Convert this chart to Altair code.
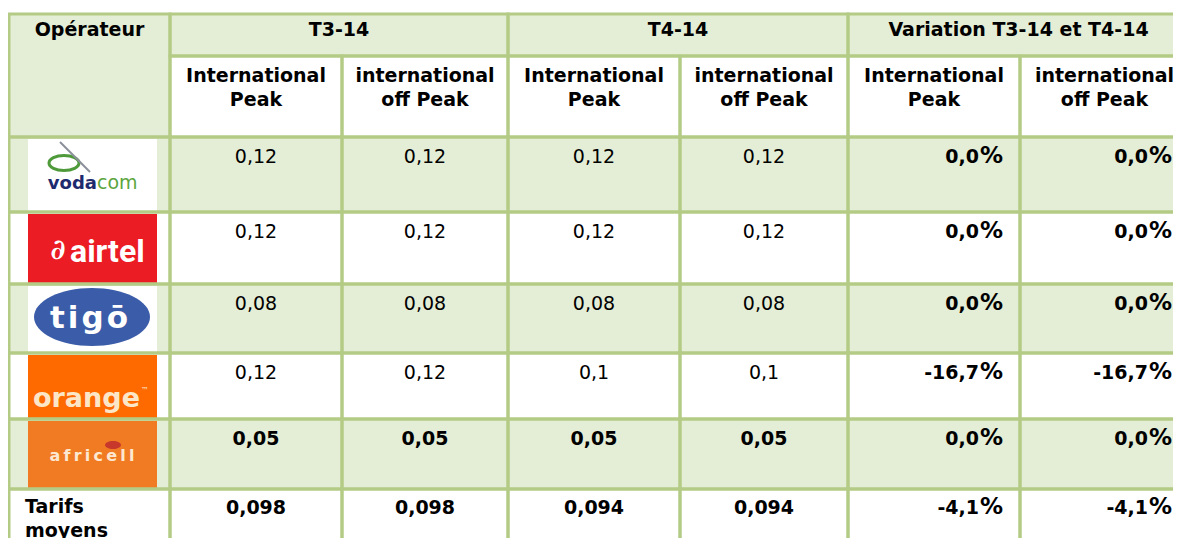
import altair as alt
import pandas as pd

# ---------------- data ----------------
corner_header = "Opérateur"
group_headers = ["T3-14", "T4-14", "Variation T3-14 et T4-14"]
sub_headers = ["International\nPeak", "international\noff Peak",
               "International\nPeak", "international\noff Peak",
               "International\nPeak", "international\noff Peak"]
operators = ["vodacom", "airtel", "tigo", "orange", "africell"]
t3_peak = [0.12, 0.12, 0.08, 0.12, 0.05]
t3_offpeak = [0.12, 0.12, 0.08, 0.12, 0.05]
t4_peak = [0.12, 0.12, 0.08, 0.1, 0.05]
t4_offpeak = [0.12, 0.12, 0.08, 0.1, 0.05]
var_peak = [0.0, 0.0, 0.0, -16.7, 0.0]
var_offpeak = [0.0, 0.0, 0.0, -16.7, 0.0]
bold_operators = ["africell"]
avg_label = "Tarifs\nmoyens"
avg_prices = [0.098, 0.098, 0.094, 0.094]
avg_var = [-4.1, -4.1]

# ---------------- layout / style ----------------
W, H = 1165, 530
COL = [9, 170, 342, 508, 680, 848, 1020, 1189]
ROW = [14, 56, 137, 212, 284, 353, 419, 489, 570]
GREEN = "#E4EDD5"
WHITE = "#FFFFFF"
BORDER = "#B4CB86"
FONT = "DejaVu Sans, Verdana, sans-serif"
FS = 19
PCT_W = 24

def num(v):
    return f"{v:g}".replace(".", ",")

def pct_num(v):
    return f"{v:.1f}".replace(".", ",")

xs = alt.Scale(domain=[8, 8 + W], range=[0, W], nice=False, zero=False)
ys = alt.Scale(domain=[8, 8 + H], range=[0, H], nice=False, zero=False)

def X(f):
    return alt.X(f, type="quantitative", scale=xs, axis=None)

def Y(f):
    return alt.Y(f, type="quantitative", scale=ys, axis=None)

# ---------------- cells ----------------
cells = []
def cell(c0, c1, r0, r1, fill):
    cells.append(dict(x0=COL[c0], x1=COL[c1], y0=ROW[r0], y1=ROW[r1], fill=fill))

cell(0, 1, 0, 2, GREEN)
for g in range(3):
    cell(1 + 2 * g, 3 + 2 * g, 0, 1, GREEN)
for c in range(1, 7):
    cell(c, c + 1, 1, 2, WHITE)
for r in range(2, 8):
    fill = GREEN if r % 2 == 0 else WHITE
    for c in range(0, 7):
        cell(c, c + 1, r, r + 1, fill)
cells_df = pd.DataFrame(cells)

fills = alt.Chart(cells_df).mark_rect(strokeWidth=0).encode(
    x=X("x0"), x2="x1", y=Y("y0"), y2="y1",
    color=alt.Color("fill:N", scale=None))
borders = alt.Chart(cells_df).mark_rect(fillOpacity=0, stroke=BORDER, strokeWidth=3).encode(
    x=X("x0"), x2="x1", y=Y("y0"), y2="y1")

# ---------------- texts ----------------
def mid(c0, c1):
    return (COL[c0] + COL[c1]) / 2

hdr = [dict(x=mid(0, 1), y=ROW[0] + 22, text=corner_header)]
for g, t in enumerate(group_headers):
    hdr.append(dict(x=mid(1 + 2 * g, 3 + 2 * g), y=ROW[0] + 22, text=t))
for i, t in enumerate(sub_headers):
    hdr.append(dict(x=mid(i + 1, i + 2), y=ROW[1] + 26, text=t))

reg_c, bold_c, bold_r, pct_sign = [], [], [], []
series = [t3_peak, t3_offpeak, t4_peak, t4_offpeak]

def add_pct(c, y, v):
    right = COL[c + 1] - 17
    bold_r.append(dict(x=right - PCT_W, y=y, text=pct_num(v)))
    pct_sign.append(dict(x=right, y=y, text="%"))

for k, op in enumerate(operators):
    r = 2 + k
    target = bold_c if op in bold_operators else reg_c
    for j, s in enumerate(series):
        target.append(dict(x=mid(j + 1, j + 2), y=ROW[r] + 26, text=num(s[k])))
    for j, s in enumerate([var_peak, var_offpeak]):
        add_pct(j + 5, ROW[r] + 26, s[k])
r = 7
for j, v in enumerate(avg_prices):
    bold_c.append(dict(x=mid(j + 1, j + 2), y=ROW[r] + 25, text=num(v)))
for j, v in enumerate(avg_var):
    add_pct(j + 5, ROW[r] + 25, v)
bold_l = [dict(x=COL[0] + 16, y=ROW[r] + 24, text=avg_label)]

def text_layer(rows, align, weight, size=FS, color="#000000", font=FONT, **kw):
    return alt.Chart(pd.DataFrame(rows)).mark_text(
        align=align, baseline="alphabetic", font=font, fontSize=size,
        fontWeight=weight, color=color, lineBreak="\n", lineHeight=24, **kw
    ).encode(x=X("x"), y=Y("y"), text="text:N")

texts = [
    text_layer(hdr, "center", "bold"),
    text_layer(reg_c, "center", "normal"),
    text_layer(bold_c, "center", "bold"),
    text_layer(bold_r, "right", "bold"),
    text_layer(pct_sign, "right", "bold", 23),
    text_layer(bold_l, "left", "bold"),
]

# ---------------- logos ----------------
logo_fill = ["#FFFFFF", "#EC1C24", "#FFFFFF", "#FF6A00", "#F07B22"]
logo_x = [28, 157]
boxes = pd.DataFrame([
    dict(x0=logo_x[0], x1=logo_x[1], y0=ROW[2 + k] + 2, y1=ROW[3 + k] - 1, fill=logo_fill[k])
    for k in range(5)])
logo_rects = alt.Chart(boxes).mark_rect().encode(
    x=X("x0"), x2="x1", y=Y("y0"), y2="y1", color=alt.Color("fill:N", scale=None))

ELLIPSE = "M-1,0A1,0.5,0,1,0,1,0A1,0.5,0,1,0,-1,0Z"
tigo_oval = alt.Chart(pd.DataFrame([dict(x=92, y=317)])).mark_point(
    shape=ELLIPSE, filled=True, color="#3B5CA8", opacity=1, size=116 ** 2).encode(
    x=X("x"), y=Y("y"))
voda_globe = alt.Chart(pd.DataFrame([dict(x=64, y=163)])).mark_point(
    shape=ELLIPSE, filled=False, color="#4E9A3A", strokeWidth=3, opacity=1, size=30 ** 2).encode(
    x=X("x"), y=Y("y"))
voda_swoosh = alt.Chart(pd.DataFrame([dict(x=60, y=142, x2=90, y2=172)])).mark_rule(
    color="#8A8F99", strokeWidth=2).encode(x=X("x"), y=Y("y"), x2="x2", y2="y2")
africell_dot = alt.Chart(pd.DataFrame([dict(x=113, y=445)])).mark_point(
    shape=ELLIPSE, filled=True, color="#C7372C", opacity=1, size=16 ** 2).encode(
    x=X("x"), y=Y("y"))

T = "\u200a"
logo_texts = [
    text_layer([dict(x=97, y=189, text="voda")], "right", "bold", 18, "#1D2A6E"),
    text_layer([dict(x=97, y=189, text="com")], "left", "normal", 19, "#5DA53E"),
    text_layer([dict(x=58, y=259, text="∂")], "center", "bold", 28, "#FFFFFF",
               font="DejaVu Serif, serif", fontStyle="italic"),
    text_layer([dict(x=70, y=262, text="airtel")], "left", "bold", 32, "#FFFFFF",
               font="Liberation Sans Narrow, Roboto, sans-serif"),
    text_layer([dict(x=89, y=328, text=T.join("tigō"))], "center", "bold", 31, "#FFFFFF"),
    text_layer([dict(x=33, y=407, text="orange")], "left", "bold", 27, "#FCE6C8"),
    text_layer([dict(x=145, y=393, text="™")], "center", "normal", 8, "#FCE6C8"),
    text_layer([dict(x=92, y=461, text="\u2009".join("africell"))], "center", "bold", 16, "#FDE8D2"),
]

chart = alt.layer(
    fills, logo_rects, tigo_oval, voda_globe, voda_swoosh, africell_dot,
    *logo_texts, borders, *texts
).properties(
    width=W, height=H, padding=0, autosize=alt.AutoSizeParams(type="none")
).configure_view(stroke=None)

chart.save("out.html", embed_options={"renderer": "svg", "actions": False})
